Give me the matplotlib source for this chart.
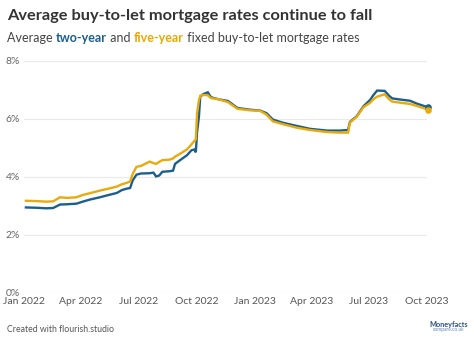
import matplotlib
matplotlib.use("Agg")
import matplotlib.pyplot as plt
import matplotlib.dates as mdates
import pandas as pd

# ---- data ----
dates = ["2022-01-04", "2022-01-20", "2022-02-05", "2022-02-16", "2022-02-27", "2022-03-10",
         "2022-03-25", "2022-04-04", "2022-04-15", "2022-05-01", "2022-05-15", "2022-05-28",
         "2022-06-05", "2022-06-13", "2022-06-18", "2022-06-22", "2022-06-28", "2022-07-05",
         "2022-07-19", "2022-07-25", "2022-07-29", "2022-08-03", "2022-08-08", "2022-08-20",
         "2022-08-25", "2022-08-28", "2022-09-05", "2022-09-16", "2022-09-23", "2022-09-28",
         "2022-09-30", "2022-10-02", "2022-10-05", "2022-10-07", "2022-10-12", "2022-10-19",
         "2022-10-24", "2022-11-05", "2022-11-20", "2022-12-05", "2022-12-25", "2023-01-10",
         "2023-01-20", "2023-01-30", "2023-02-15", "2023-03-09", "2023-03-30", "2023-04-26",
         "2023-05-15", "2023-05-29", "2023-06-01", "2023-06-12", "2023-06-22", "2023-07-03",
         "2023-07-08", "2023-07-14", "2023-07-26", "2023-08-02", "2023-08-07", "2023-08-20",
         "2023-09-04", "2023-09-15", "2023-10-03"]

two_year = [2.95, 2.94, 2.92, 2.93, 3.05, 3.06,
            3.08, 3.15, 3.22, 3.30, 3.38, 3.45,
            3.55, 3.60, 3.62, 3.88, 4.08, 4.12,
            4.13, 4.15, 4.02, 4.05, 4.18, 4.20,
            4.22, 4.45, 4.58, 4.75, 4.92, 4.95,
            4.85, 5.55, 6.10, 6.77, 6.86, 6.92,
            6.75, 6.68, 6.62, 6.38, 6.32, 6.29,
            6.20, 5.98, 5.87, 5.76, 5.66, 5.60,
            5.60, 5.62, 5.90, 6.10, 6.43, 6.66,
            6.82, 6.98, 6.97, 6.80, 6.71, 6.67,
            6.63, 6.53, 6.40]

five_year = [3.18, 3.17, 3.15, 3.16, 3.30, 3.28,
             3.30, 3.38, 3.44, 3.53, 3.60, 3.67,
             3.75, 3.80, 3.85, 4.10, 4.35, 4.38,
             4.53, 4.48, 4.45, 4.52, 4.58, 4.60,
             4.64, 4.70, 4.80, 4.95, 5.12, 5.25,
             5.30, 6.20, 6.65, 6.80, 6.83, 6.82,
             6.72, 6.68, 6.58, 6.35, 6.30, 6.28,
             6.15, 5.92, 5.82, 5.70, 5.62, 5.55,
             5.53, 5.53, 5.88, 6.08, 6.40, 6.56,
             6.68, 6.77, 6.85, 6.68, 6.60, 6.56,
             6.52, 6.45, 6.32]

y_ticks = [0, 2, 4, 6, 8]
y_tick_labels = ["0%", "2%", "4%", "6%", "8%"]
x_ticks = ["2022-01-01", "2022-04-01", "2022-07-01", "2022-10-01",
           "2023-01-01", "2023-04-01", "2023-07-01", "2023-10-01"]
x_tick_labels = ["Jan 2022", "Apr 2022", "Jul 2022", "Oct 2022",
                 "Jan 2023", "Apr 2023", "Jul 2023", "Oct 2023"]

title = "Average buy-to-let mortgage rates continue to fall"
subtitle_parts = [("Average ", "#444444", "normal"), ("two-year", "#1b5f8c", "bold"),
                  (" and ", "#444444", "normal"), ("five-year", "#e8a800", "bold"),
                  (" fixed buy-to-let mortgage rates", "#444444", "normal")]
footer = "Created with flourish.studio"

BLUE = "#1b5f8c"
YELLOW = "#e9aa0b"
FONT = "Lato"

# ---- figure ----
W, H = 474, 342
fig = plt.figure(figsize=(W / 100, H / 100), dpi=100)
left, right, top, bottom = 24, 427, 61, 293
ax = fig.add_axes([left / W, 1 - bottom / H, (right - left) / W, (bottom - top) / H])

d = pd.to_datetime(dates)
ax.plot(d, two_year, color=BLUE, lw=1.7, zorder=3, clip_on=False, solid_joinstyle="miter")
ax.plot(d, five_year, color=YELLOW, lw=1.7, zorder=4, clip_on=False, solid_joinstyle="miter")
ax.scatter([d[-1]], [two_year[-1]], s=14, color=BLUE, zorder=5, clip_on=False)
ax.scatter([d[-1]], [five_year[-1]], s=14, color=YELLOW, zorder=6, clip_on=False)

ax.annotate(f"{two_year[-1]:.2f}%", (d[-1], two_year[-1]), xytext=(4, 4), textcoords="offset points",
            ha="left", va="center", color=BLUE, fontsize=8.5, fontweight="bold", family=FONT)
ax.annotate(f"{five_year[-1]:.2f}%", (d[-1], five_year[-1]), xytext=(4, -5), textcoords="offset points",
            ha="left", va="center", color=YELLOW, fontsize=8.5, fontweight="bold", family=FONT)

ax.set_ylim(0, 8)
ax.set_xlim(pd.Timestamp("2022-01-01"), pd.Timestamp("2023-10-01"))
ax.set_yticks(y_ticks)
ax.set_yticklabels(y_tick_labels, family=FONT, fontsize=7.5, color="#666666")
ax.set_xticks(pd.to_datetime(x_ticks))
ax.set_xticklabels(x_tick_labels, family=FONT, fontsize=7.5, color="#555555")
ax.tick_params(axis="both", length=0)
ax.tick_params(axis="y", pad=3)
ax.tick_params(axis="x", pad=3)
ax.grid(axis="y", color="#e9e9e9", lw=0.8)
ax.set_axisbelow(True)
for s in ax.spines.values():
    s.set_visible(False)

# ---- texts ----
fig.text(7 / W, 1 - 16 / H, title, ha="left", va="center", fontsize=11.75, fontweight="bold",
         color="#333333", family=FONT)

renderer = fig.canvas.get_renderer()
x = 7 / W
for txt, col, wt in subtitle_parts:
    t = fig.text(x, 1 - 38 / H, txt, ha="left", va="center", fontsize=9.0, fontweight=wt,
                 color=col, family=FONT)
    bb = t.get_window_extent(renderer=renderer)
    x += bb.width / W

fig.text(7 / W, 1 - 329 / H, footer, ha="left", va="center", fontsize=6.3, color="#555555", family=FONT)
fig.text(449 / W, 1 - 324 / H, "Moneyfacts", ha="center", va="center", fontsize=5.2,
         fontweight="bold", color="#2a4f86", family=FONT)
fig.text(449 / W, 1 - 329.5 / H, "compare.co.uk", ha="center", va="center", fontsize=3.5,
         color="#6a87b0", family=FONT)

fig.savefig("out.png", dpi=100, facecolor="white")
